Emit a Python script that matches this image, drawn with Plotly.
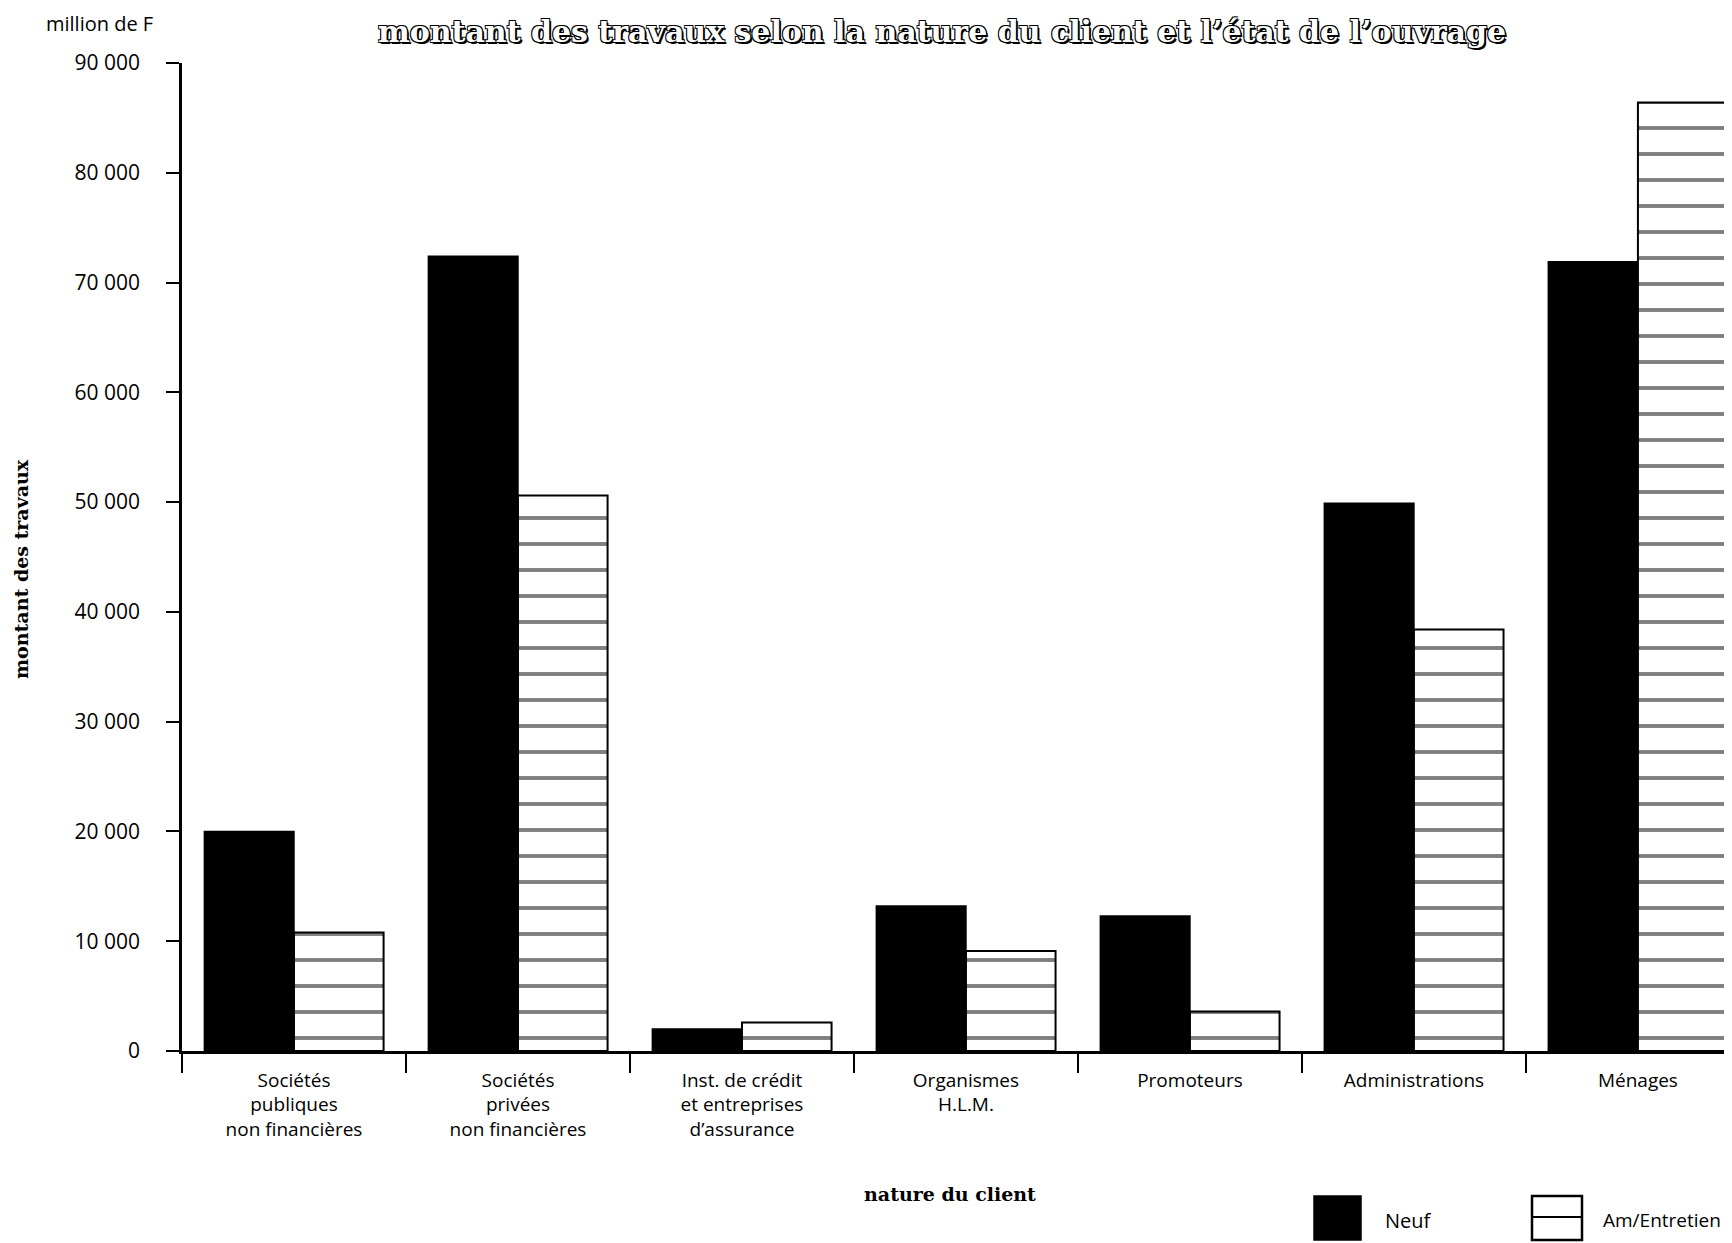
import plotly.graph_objects as go

categories = [
    "Sociétés<br>publiques<br>non financières",
    "Sociétés<br>privées<br>non financières",
    "Inst. de crédit<br>et entreprises<br>d’assurance",
    "Organismes<br>H.L.M.",
    "Promoteurs",
    "Administrations",
    "Ménages",
]
neuf = [20000, 72400, 2000, 13200, 12300, 49900, 71900]
entretien = [10800, 50600, 2600, 9100, 3600, 38400, 86400]
y_ticks = [0, 10000, 20000, 30000, 40000, 50000, 60000, 70000, 80000, 90000]

OFF = 8  # page body margin
W, H = 1732 - OFF, 1243 - OFF
L, R, T, B = 182 - OFF, 0, 63 - OFF, 192

fig = go.Figure()
fig.add_trace(go.Bar(
    x=categories, y=neuf, name="Neuf",
    marker=dict(color="black", line=dict(color="black", width=1.5)),
))
fig.add_trace(go.Bar(
    x=categories, y=entretien, name="Am/Entretien",
    marker=dict(
        color="white",
        line=dict(color="black", width=2),
        pattern=dict(shape="-", size=26, solidity=0.15,
                     fgcolor="black", bgcolor="white", fillmode="overlay"),
    ),
))

sans = "Open Sans"
serif = "DejaVu Serif"

fig.update_layout(
    width=W, height=H,
    margin=dict(l=L, r=R, t=T, b=B, pad=0),
    paper_bgcolor="white", plot_bgcolor="white",
    barmode="group", bargap=0.2, bargroupgap=0,
    showlegend=False,
    separators=", ",
    font=dict(family=sans, size=19, color="black"),
    title=dict(
        text="montant des travaux selon la nature du client et l’état de l’ouvrage",
        xref="container", yref="container", x=(942 - OFF) / W, y=1 - 23 / H,
        xanchor="center", yanchor="middle",
        font=dict(family=serif, size=30, color="white", weight="bold",
                  shadow="-1px -1px 0 #000, 1px -1px 0 #000, -1px 1px 0 #000, 1px 1px 0 #000, 2px 2px 0 #000"),
    ),
    xaxis=dict(
        type="category", range=[-0.5, 6.42],
        showline=True, linecolor="black", linewidth=2.5,
        ticks="outside", tickson="boundaries", ticklen=19, tickwidth=2, tickcolor="black",
        ticklabelstandoff=10,
        showgrid=False, zeroline=False,
        tickfont=dict(family=sans, size=19, color="black"),
    ),
    yaxis=dict(
        range=[0, 90000], tickvals=y_ticks, tickformat=",d",
        showline=True, linecolor="black", linewidth=2.5,
        ticks="outside", ticklen=13, tickwidth=2, tickcolor="black",
        ticklabelstandoff=22,
        showgrid=False, zeroline=False,
        tickfont=dict(family=sans, size=21, color="black"),
    ),
)

pw = W - L - R
ph = H - T - B
def px(x):
    return (x - OFF - L) / pw
def py(y):
    return (H - B - (y - OFF)) / ph

annotations = [
    dict(text="million de F", x=px(99), y=py(24), xanchor="center", yanchor="middle",
         font=dict(family=sans, size=20)),
    dict(text="<b>montant des travaux</b>", x=px(21), y=py(569), textangle=-90,
         xanchor="center", yanchor="middle", font=dict(family=serif, size=19)),
    dict(text="<b>nature du client</b>", x=px(950), y=py(1194), xanchor="center", yanchor="middle",
         font=dict(family=serif, size=19)),
    dict(text="Neuf", x=px(1383), y=py(1220), xanchor="left", yanchor="middle",
         font=dict(family=sans, size=20)),
    dict(text="Am/Entretien", x=px(1601), y=py(1220), xanchor="left", yanchor="middle",
         font=dict(family=sans, size=19)),
]
for a in annotations:
    a.update(xref="paper", yref="paper", showarrow=False)
fig.update_layout(annotations=annotations)

shapes = [
    dict(type="rect", x0=px(1314), x1=px(1361), y0=py(1240), y1=py(1196),
         fillcolor="black", line=dict(color="black", width=1.5)),
    dict(type="rect", x0=px(1532), x1=px(1582), y0=py(1240), y1=py(1196),
         fillcolor="white", line=dict(color="black", width=2.5)),
    dict(type="line", x0=px(1532), x1=px(1582), y0=py(1217), y1=py(1217),
         line=dict(color="black", width=2)),
]
for s in shapes:
    s.update(xref="paper", yref="paper")
fig.update_layout(shapes=shapes)

fig.write_html("out.html")
